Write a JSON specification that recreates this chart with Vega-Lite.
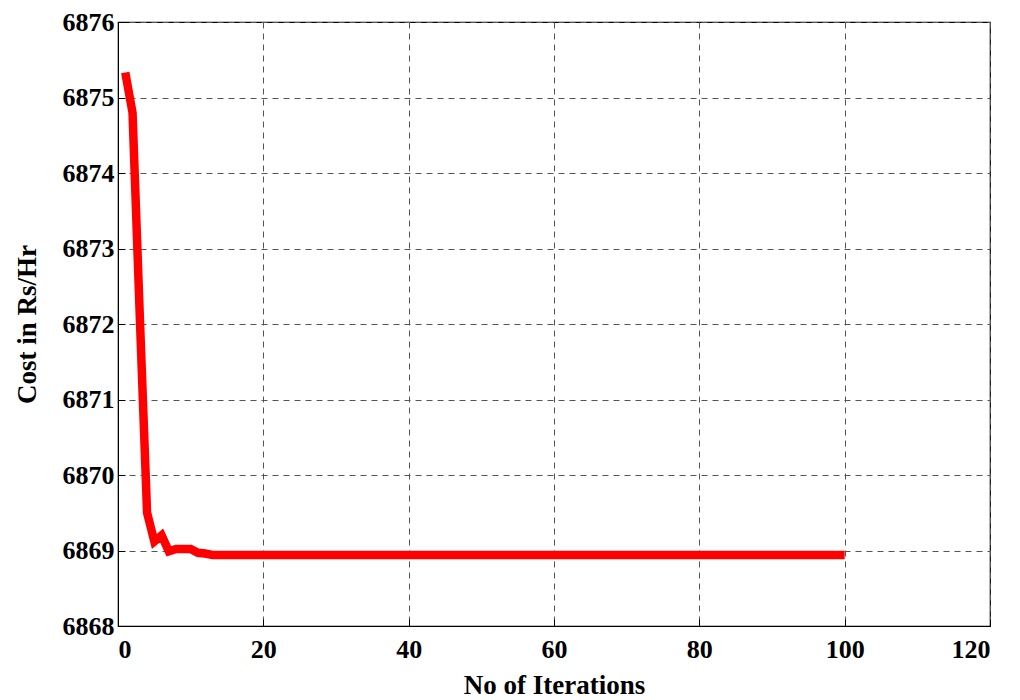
{
  "$schema": "https://vega.github.io/schema/vega-lite/v6.json",
  "width": 872,
  "height": 604,
  "autosize": {"type": "none"},
  "padding": {"left": 118, "top": 22, "right": 30, "bottom": 74},
  "background": "white",
  "config": {
    "view": {"stroke": "black", "strokeWidth": 1.2},
    "axis": {
      "labelFont": "Liberation Serif",
      "titleFont": "Liberation Serif",
      "labelFontWeight": "bold",
      "titleFontWeight": "bold",
      "labelFontSize": 26,
      "titleFontSize": 27,
      "labelColor": "black",
      "titleColor": "black",
      "domainColor": "black",
      "tickColor": "black",
      "tickSize": -7,
      "gridColor": "#555555",
      "gridDash": [6, 5],
      "gridOpacity": 1,
      "gridWidth": 1,
      "zindex": 1
    }
  },
  "data": {
    "values": [
      {"iter": 1, "cost": 6875.33}, {"iter": 2, "cost": 6874.8}, {"iter": 3, "cost": 6872.1},
      {"iter": 4, "cost": 6869.5}, {"iter": 5, "cost": 6869.12}, {"iter": 6, "cost": 6869.2},
      {"iter": 7, "cost": 6868.99}, {"iter": 8, "cost": 6869.02}, {"iter": 9, "cost": 6869.02},
      {"iter": 10, "cost": 6869.02}, {"iter": 11, "cost": 6868.97}, {"iter": 12, "cost": 6868.96},
      {"iter": 13, "cost": 6868.94}, {"iter": 14, "cost": 6868.94}, {"iter": 15, "cost": 6868.94},
      {"iter": 16, "cost": 6868.94}, {"iter": 17, "cost": 6868.94}, {"iter": 18, "cost": 6868.94},
      {"iter": 19, "cost": 6868.94}, {"iter": 20, "cost": 6868.94}, {"iter": 21, "cost": 6868.94},
      {"iter": 22, "cost": 6868.94}, {"iter": 23, "cost": 6868.94}, {"iter": 24, "cost": 6868.94},
      {"iter": 25, "cost": 6868.94}, {"iter": 26, "cost": 6868.94}, {"iter": 27, "cost": 6868.94},
      {"iter": 28, "cost": 6868.94}, {"iter": 29, "cost": 6868.94}, {"iter": 30, "cost": 6868.94},
      {"iter": 31, "cost": 6868.94}, {"iter": 32, "cost": 6868.94}, {"iter": 33, "cost": 6868.94},
      {"iter": 34, "cost": 6868.94}, {"iter": 35, "cost": 6868.94}, {"iter": 36, "cost": 6868.94},
      {"iter": 37, "cost": 6868.94}, {"iter": 38, "cost": 6868.94}, {"iter": 39, "cost": 6868.94},
      {"iter": 40, "cost": 6868.94}, {"iter": 41, "cost": 6868.94}, {"iter": 42, "cost": 6868.94},
      {"iter": 43, "cost": 6868.94}, {"iter": 44, "cost": 6868.94}, {"iter": 45, "cost": 6868.94},
      {"iter": 46, "cost": 6868.94}, {"iter": 47, "cost": 6868.94}, {"iter": 48, "cost": 6868.94},
      {"iter": 49, "cost": 6868.94}, {"iter": 50, "cost": 6868.94}, {"iter": 51, "cost": 6868.94},
      {"iter": 52, "cost": 6868.94}, {"iter": 53, "cost": 6868.94}, {"iter": 54, "cost": 6868.94},
      {"iter": 55, "cost": 6868.94}, {"iter": 56, "cost": 6868.94}, {"iter": 57, "cost": 6868.94},
      {"iter": 58, "cost": 6868.94}, {"iter": 59, "cost": 6868.94}, {"iter": 60, "cost": 6868.94},
      {"iter": 61, "cost": 6868.94}, {"iter": 62, "cost": 6868.94}, {"iter": 63, "cost": 6868.94},
      {"iter": 64, "cost": 6868.94}, {"iter": 65, "cost": 6868.94}, {"iter": 66, "cost": 6868.94},
      {"iter": 67, "cost": 6868.94}, {"iter": 68, "cost": 6868.94}, {"iter": 69, "cost": 6868.94},
      {"iter": 70, "cost": 6868.94}, {"iter": 71, "cost": 6868.94}, {"iter": 72, "cost": 6868.94},
      {"iter": 73, "cost": 6868.94}, {"iter": 74, "cost": 6868.94}, {"iter": 75, "cost": 6868.94},
      {"iter": 76, "cost": 6868.94}, {"iter": 77, "cost": 6868.94}, {"iter": 78, "cost": 6868.94},
      {"iter": 79, "cost": 6868.94}, {"iter": 80, "cost": 6868.94}, {"iter": 81, "cost": 6868.94},
      {"iter": 82, "cost": 6868.94}, {"iter": 83, "cost": 6868.94}, {"iter": 84, "cost": 6868.94},
      {"iter": 85, "cost": 6868.94}, {"iter": 86, "cost": 6868.94}, {"iter": 87, "cost": 6868.94},
      {"iter": 88, "cost": 6868.94}, {"iter": 89, "cost": 6868.94}, {"iter": 90, "cost": 6868.94},
      {"iter": 91, "cost": 6868.94}, {"iter": 92, "cost": 6868.94}, {"iter": 93, "cost": 6868.94},
      {"iter": 94, "cost": 6868.94}, {"iter": 95, "cost": 6868.94}, {"iter": 96, "cost": 6868.94},
      {"iter": 97, "cost": 6868.94}, {"iter": 98, "cost": 6868.94}, {"iter": 99, "cost": 6868.94},
      {"iter": 100, "cost": 6868.94}
    ]
  },
  "mark": {"type": "line", "color": "#ff0000", "strokeWidth": 8.5, "strokeJoin": "miter", "strokeCap": "butt"},
  "encoding": {
    "x": {
      "field": "iter",
      "type": "quantitative",
      "scale": {"domain": [0, 120], "nice": false, "zero": false},
      "axis": {"values": [0, 20, 40, 60, 80, 100, 120], "title": "No of Iterations", "labelPadding": 17, "titlePadding": 10, "format": "d"}
    },
    "y": {
      "field": "cost",
      "type": "quantitative",
      "scale": {"domain": [6868, 6876], "nice": false, "zero": false},
      "axis": {"values": [6868, 6869, 6870, 6871, 6872, 6873, 6874, 6875, 6876], "title": "Cost in Rs/Hr", "labelPadding": 11, "titlePadding": 21, "format": "d"}
    }
  }
}
